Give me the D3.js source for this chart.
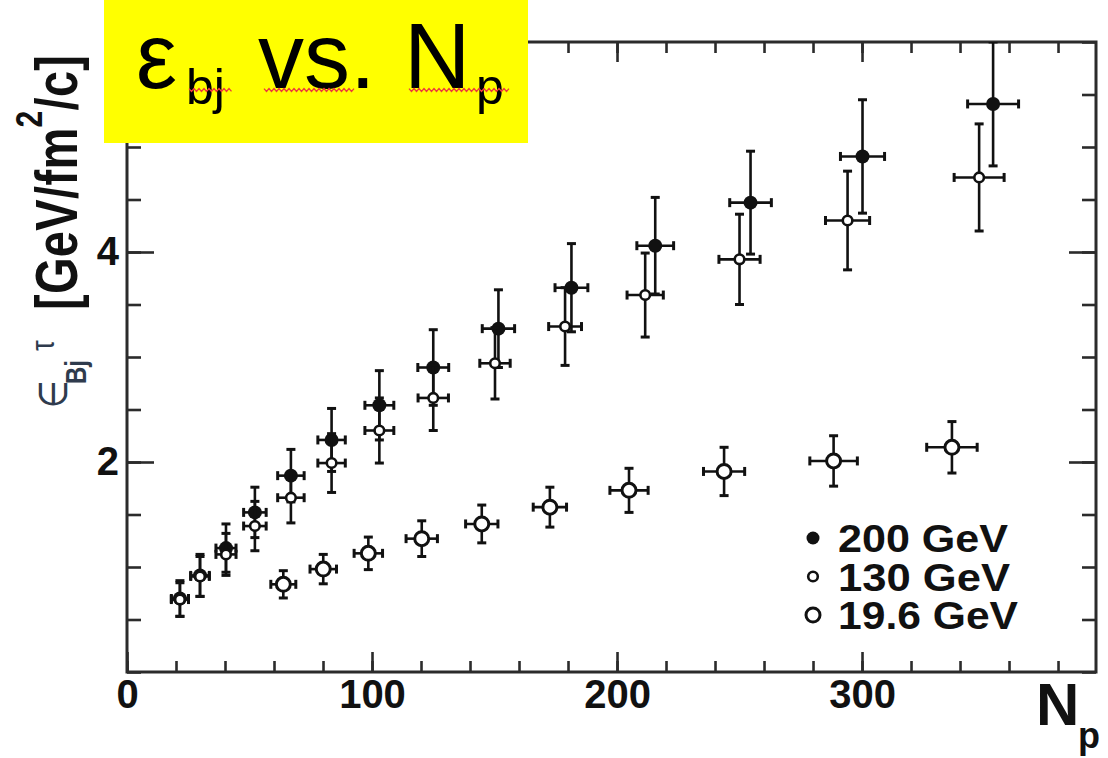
<!DOCTYPE html>
<html>
<head>
<meta charset="utf-8">
<script src="https://cdn.jsdelivr.net/npm/d3@7"></script>
<style>
  html, body { margin: 0; padding: 0; background: #fff; }
  svg { display: block; }
</style>
</head>
<body>
<svg id="chart" width="1108" height="758"></svg>
<script>
// Bjorken energy density times formation time vs. number of participants

// 200 GeV (filled circles)
const np200     = [21.6, 29.8, 40.4, 52.2, 66.9, 83.5, 103.0, 125.0, 151.6, 181.4, 215.6, 254.5, 300.2, 353.5];
const eps200    = [0.70, 0.92, 1.18, 1.52, 1.87, 2.21, 2.54, 2.90, 3.27, 3.66, 4.06, 4.47, 4.91, 5.41];
const epsErr200 = [0.17, 0.20, 0.23, 0.24, 0.25, 0.30, 0.33, 0.36, 0.37, 0.42, 0.46, 0.49, 0.54, 0.59];
const npErr200  = [3.5, 3.8, 4.1, 4.6, 5.4, 5.6, 5.9, 6.3, 6.6, 6.7, 7.5, 8.5, 9.0, 10.4];

// 130 GeV (small open circles)
const np130     = [21.6, 29.8, 40.4, 52.2, 66.9, 83.5, 103.0, 125.0, 150.2, 178.8, 211.5, 250.0, 294.1, 347.8];
const eps130    = [0.69, 0.91, 1.12, 1.39, 1.66, 1.99, 2.30, 2.61, 2.94, 3.29, 3.59, 3.93, 4.30, 4.71];
const epsErr130 = [0.16, 0.19, 0.20, 0.235, 0.24, 0.28, 0.31, 0.31, 0.34, 0.37, 0.40, 0.43, 0.47, 0.51];
const npErr130  = [3.5, 3.8, 4.1, 4.6, 5.4, 5.6, 5.9, 6.2, 6.2, 6.7, 7.4, 8.4, 9.0, 10.2];

// 19.6 GeV (large open circles)
const np19      = [63.8, 80.1, 98.5, 120.3, 144.8, 172.6, 204.9, 243.7, 288.4, 336.7];
const eps19     = [0.835, 0.98, 1.13, 1.27, 1.41, 1.57, 1.73, 1.91, 2.01, 2.14];
const epsErr19  = [0.13, 0.14, 0.155, 0.17, 0.18, 0.19, 0.21, 0.23, 0.24, 0.245];
const npErr19   = [5.1, 5.4, 5.8, 6.4, 6.6, 6.8, 7.8, 8.4, 9.7, 10.3];

const legendLabels = ["200 GeV", "130 GeV", "19.6 GeV"];
const xTickValues = [0, 100, 200, 300];
const yTickValues = [2, 4];

const sans = "'Liberation Sans', Arial, Helvetica, sans-serif";
const svg = d3.select("#chart").style("font-family", sans);
const plot = { left: 127, right: 1096, top: 42, bottom: 672 };

const x = d3.scaleLinear().domain([0, 395.5]).range([plot.left, plot.right]);
const y = d3.scaleLinear().domain([0, 6]).range([plot.bottom, plot.top]);

svg.append("rect").attr("width", 1108).attr("height", 758).attr("fill", "#fff");

svg.append("clipPath").attr("id", "plotClip")
  .append("rect")
  .attr("x", plot.left).attr("y", plot.top)
  .attr("width", plot.right - plot.left).attr("height", plot.bottom - plot.top);

// ---- axes: ticks point inward on all four sides ----
const axisColor = "#2b2b2b";
function addAxis(axis, tx, ty) {
  const g = svg.append("g").attr("transform", `translate(${tx},${ty})`).call(axis);
  g.select(".domain").remove();
  g.selectAll(".tick line").attr("stroke", axisColor).attr("stroke-width", 2.6);
  g.selectAll(".tick text")
    .attr("fill", "#111")
    .style("font-size", "40px")
    .style("font-weight", "bold")
    .style("font-family", sans);
  return g;
}
const xMinor = d3.range(0, 395, 20);
const yMinor = d3.range(0, 6.01, 0.5);

addAxis(d3.axisBottom(x).tickValues(xMinor).tickSize(-11).tickFormat(""), 0, plot.bottom);
addAxis(d3.axisBottom(x).tickValues(xTickValues).tickSize(-20).tickPadding(8).tickFormat(d3.format("d")), 0, plot.bottom);
addAxis(d3.axisTop(x).tickValues(xMinor).tickSize(-11).tickFormat(""), 0, plot.top);
addAxis(d3.axisTop(x).tickValues(xTickValues).tickSize(-20).tickFormat(""), 0, plot.top);

addAxis(d3.axisLeft(y).tickValues(yMinor).tickSize(-14).tickFormat(""), plot.left, 0);
addAxis(d3.axisLeft(y).tickValues(yTickValues).tickSize(-27).tickPadding(8).tickFormat(d3.format("d")), plot.left, 0);
addAxis(d3.axisRight(y).tickValues(yMinor).tickSize(-14).tickFormat(""), plot.right, 0);
addAxis(d3.axisRight(y).tickValues(yTickValues).tickSize(-27).tickFormat(""), plot.right, 0);

// frame
svg.append("rect")
  .attr("x", plot.left).attr("y", plot.top)
  .attr("width", plot.right - plot.left).attr("height", plot.bottom - plot.top)
  .attr("fill", "none").attr("stroke", axisColor).attr("stroke-width", 3);

// ---- data series with error bars ----
const ink = "#111";
const markerStyles = {
  filled: { r: 7, fill: ink, stroke: "none", sw: 0 },
  small:  { r: 4.8, fill: "#fff", stroke: ink, sw: 2.6 },
  large:  { r: 7, fill: "#fff", stroke: ink, sw: 3 }
};

function drawSeries(N, E, dE, dN, style) {
  const pts = N.map((n, i) => ({ n, e: E[i], de: dE[i], dn: dN[i] }));
  const g = svg.append("g").attr("clip-path", "url(#plotClip)");
  const cap = 4.5;
  const bars = g.append("g").attr("stroke", ink).attr("stroke-width", 2.6);
  bars.selectAll("line.v").data(pts).join("line").attr("class", "v")
    .attr("x1", d => x(d.n)).attr("x2", d => x(d.n))
    .attr("y1", d => y(d.e - d.de)).attr("y2", d => y(d.e + d.de));
  bars.selectAll("line.h").data(pts).join("line").attr("class", "h")
    .attr("x1", d => x(d.n - d.dn)).attr("x2", d => x(d.n + d.dn))
    .attr("y1", d => y(d.e)).attr("y2", d => y(d.e));
  // end caps
  bars.selectAll("line.ct").data(pts).join("line").attr("class", "ct")
    .attr("x1", d => x(d.n) - cap).attr("x2", d => x(d.n) + cap)
    .attr("y1", d => y(d.e + d.de)).attr("y2", d => y(d.e + d.de)).attr("stroke-width", 3);
  bars.selectAll("line.cb").data(pts).join("line").attr("class", "cb")
    .attr("x1", d => x(d.n) - cap).attr("x2", d => x(d.n) + cap)
    .attr("y1", d => y(d.e - d.de)).attr("y2", d => y(d.e - d.de)).attr("stroke-width", 3);
  bars.selectAll("line.cl").data(pts).join("line").attr("class", "cl")
    .attr("x1", d => x(d.n - d.dn)).attr("x2", d => x(d.n - d.dn))
    .attr("y1", d => y(d.e) - cap).attr("y2", d => y(d.e) + cap).attr("stroke-width", 3);
  bars.selectAll("line.cr").data(pts).join("line").attr("class", "cr")
    .attr("x1", d => x(d.n + d.dn)).attr("x2", d => x(d.n + d.dn))
    .attr("y1", d => y(d.e) - cap).attr("y2", d => y(d.e) + cap).attr("stroke-width", 3);
  g.selectAll("circle").data(pts).join("circle")
    .attr("cx", d => x(d.n)).attr("cy", d => y(d.e))
    .attr("r", style.r).attr("fill", style.fill)
    .attr("stroke", style.stroke).attr("stroke-width", style.sw);
}

drawSeries(np200, eps200, epsErr200, npErr200, markerStyles.filled);
drawSeries(np130, eps130, epsErr130, npErr130, markerStyles.small);
drawSeries(np19, eps19, epsErr19, npErr19, markerStyles.large);

// ---- legend ----
const legendStyles = [markerStyles.filled, markerStyles.small, markerStyles.large];
const legendWidths = [170, 172, 180];
const legend = svg.append("g");
legendLabels.forEach((label, i) => {
  const st = legendStyles[i];
  const cy = 538 + i * 38.5;
  legend.append("circle").attr("cx", 813).attr("cy", cy).attr("r", i === 0 ? 6.5 : st.r)
    .attr("fill", st.fill).attr("stroke", st.stroke).attr("stroke-width", st.sw);
  legend.append("text").attr("x", 838).attr("y", cy + 14)
    .attr("font-size", 38).attr("font-weight", "bold").attr("fill", "#111")
    .attr("textLength", legendWidths[i]).attr("lengthAdjust", "spacingAndGlyphs")
    .text(label);
});

// ---- axis titles ----
const xt = svg.append("g").attr("fill", "#111").attr("font-weight", "bold");
xt.append("text").attr("x", 1036).attr("y", 725).attr("font-size", 60).text("N");
xt.append("text").attr("x", 1078).attr("y", 748).attr("font-size", 36).text("p");

// vertical title: ε_Bj τ [GeV/fm²/c], reading bottom to top, glyphs widened across the baseline
const epsColor = "#2f3b4d";
const stretch = 1.25;
function vText(baseX, startY) {
  return svg.append("text")
    .attr("transform", `translate(${baseX},0) scale(${stretch},1) rotate(-90)`)
    .attr("x", -startY).attr("y", 0);
}
vText(67, 408).style("font-family", "'DejaVu Sans', sans-serif").style("font-size", "32px")
  .attr("fill", epsColor).text("\u2208");
vText(86, 384).attr("font-size", 24).attr("font-weight", "bold")
  .attr("fill", epsColor).text("Bj");
vText(54, 351).attr("font-size", 27).attr("fill", epsColor).text("\u03C4");
const unit = vText(77, 310).attr("font-size", 47).attr("font-weight", "bold").attr("fill", "#111")
  .attr("textLength", 255).attr("lengthAdjust", "spacing");
unit.append("tspan").text("[GeV/fm");
unit.append("tspan").attr("dy", -28).attr("font-size", 30).text("2");
unit.append("tspan").attr("dy", 28).text("/c]");

// ---- title banner ----
const banner = svg.append("g");
banner.append("rect").attr("x", 104).attr("y", 0).attr("width", 424).attr("height", 143).attr("fill", "#ffff00");
const tt = banner.append("g").attr("fill", "#000");
tt.append("text").attr("x", 136).attr("y", 88).attr("font-size", 92).text("\u03B5");
tt.append("text").attr("x", 186).attr("y", 104).attr("font-size", 50).text("bj");
tt.append("text").attr("x", 258).attr("y", 88).attr("font-size", 92).text("vs.");
tt.append("text").attr("x", 404).attr("y", 88).attr("font-size", 92).text("N");
tt.append("text").attr("x", 476).attr("y", 104).attr("font-size", 50).text("p");

// wavy underline marks beneath the title words
function wave(x0, x1, y0) {
  const pts = [];
  let up = true;
  for (let xx = x0; xx <= x1; xx += 2.5) { pts.push([xx, y0 + (up ? -1.4 : 1.4)]); up = !up; }
  return d3.line()(pts);
}
[[189, 232], [264, 354], [409, 511]].forEach(([a, b]) => {
  banner.append("path").attr("d", wave(a, b, 90))
    .attr("fill", "none").attr("stroke", "#ee3b3b").attr("stroke-width", 1.3);
});
</script>
</body>
</html>
